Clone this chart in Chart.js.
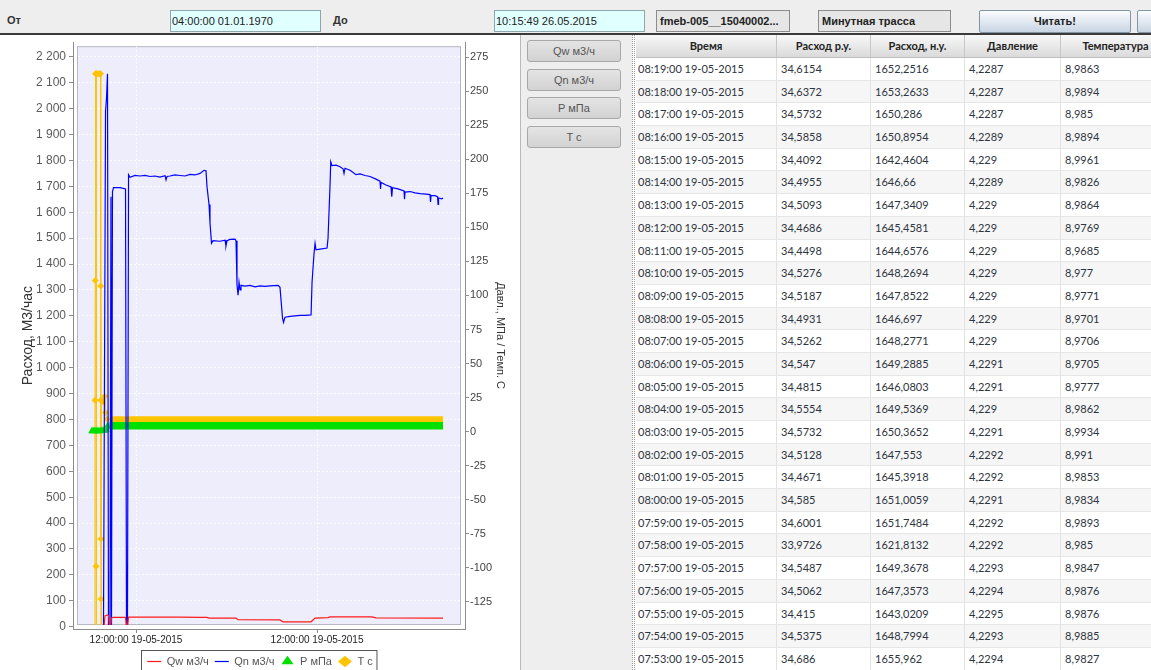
<!DOCTYPE html>
<html lang="ru">
<head>
<meta charset="utf-8">
<title>Минутная трасса</title>
<script src="https://cdn.jsdelivr.net/npm/chart.js@4.4.1/dist/chart.umd.min.js"></script>
<style>
    html, body { margin: 0; padding: 0; }
    body { width: 1151px; height: 670px; overflow: hidden; position: relative; background: #fff;
           font-family: 'Liberation Sans', Arial, sans-serif; }

    /* top toolbar */
    .toolbar { position: absolute; left: 0; top: 0; width: 1151px; height: 33px; background: #eeeeee;
               border-bottom: 2px solid #3a3a3a; z-index: 2; }
    .toolbar .lbl { position: absolute; top: 14px; font-size: 11px; font-weight: bold; color: #333; }
    .field { position: absolute; top: 10px; height: 22px; box-sizing: border-box; font-size: 11px;
             line-height: 20px; white-space: nowrap; overflow: hidden; color: #222; }
    .field.date { background: #e0ffff; border: 1px solid #8fa6ad; padding-left: 1px;
                  font-family: 'Liberation Sans Narrow', 'Arial Narrow', 'Liberation Sans', sans-serif; }
    .field.gray { background: #e6e6e6; border: 1px solid #8c8c8c; padding-left: 3px; font-weight: bold; }
    .btn-read { position: absolute; top: 10px; height: 23px; box-sizing: border-box; border: 1px solid #8394a6;
                border-radius: 2px; background: linear-gradient(#fbfcfe, #c8d5e3); font-size: 11px;
                font-weight: bold; color: #222; text-align: center; line-height: 21px; }

    /* chart panel */
    .chart-panel { position: absolute; left: 0; top: 35px; width: 520px; height: 635px; background: #fff;
                   border-right: 1px solid #b9b9b9; }
    .chart-box { position: absolute; left: 0; top: 32px; width: 520px; height: 645px; z-index: 1; }

    /* series buttons */
    .side { position: absolute; left: 521px; top: 35px; width: 111px; height: 635px; background: #eeeeee; }
    .side .sbtn { position: absolute; left: 6px; width: 94px; height: 22px; box-sizing: border-box;
                  border: 1px solid #a8a8a8; border-radius: 3px; background: linear-gradient(#e4e4e4, #d2d2d2);
                  font-size: 11px; color: #555; text-align: center; line-height: 20px; }
    .splitter { position: absolute; left: 632px; top: 35px; width: 3px; height: 635px;
                border-left: 1px dotted #9a9a9a; border-right: 1px dotted #9a9a9a; box-sizing: border-box; }

    /* data table */
    .grid { position: absolute; left: 636px; top: 35px; width: 515px; height: 635px; overflow: hidden;
            background: #fff; font-family: Lato, 'Liberation Sans', sans-serif; }
    .grid .head { display: flex; height: 23px; box-sizing: border-box; border-bottom: 1px solid #bdbdbd;
                  background: linear-gradient(#f8f8f8, #dadada); }
    .grid .head .cell { font-weight: bold; text-align: center; color: #222; line-height: 22px;
                        padding-left: 0; border-right: 1px solid #c6c6c6; }
    .grid .row { display: flex; height: 22.69px; box-sizing: border-box; border-bottom: 1px solid #e6e6e6; }
    .grid .row.odd { background: #f6f6f6; }
    .grid .cell { flex: none; box-sizing: border-box; padding-left: 4px; font-size: 11px; line-height: 21.5px;
                  color: #2e3440; white-space: nowrap; overflow: hidden; border-right: 1px solid #e2e2e2; }
    .grid .c0 { width: 141px; padding-left: 2px; }
    .grid .c1 { width: 94px; }
    .grid .c2 { width: 94px; }
    .grid .c3 { width: 96px; }
    .grid .c4 { width: 110px; }
</style>
</head>
<body>

<div class="toolbar">
    <span class="lbl" style="left:7px">От</span>
    <div class="field date" style="left:170px;width:151px">04:00:00 01.01.1970</div>
    <span class="lbl" style="left:333px">До</span>
    <div class="field date" style="left:494px;width:151px">10:15:49 26.05.2015</div>
    <div class="field gray" style="left:656px;width:134px">fmeb-005__15040002...</div>
    <div class="field gray" style="left:818px;width:133px">Минутная трасса</div>
    <div class="btn-read" style="left:979px;width:152px">Читать!</div>
    <div class="btn-read" style="left:1137px;width:40px"></div>
</div>

<div class="chart-panel"></div>
<div class="chart-box"><canvas id="traceChart"></canvas></div>

<div class="side" id="seriesButtons"></div>
<div class="splitter"></div>

<div class="grid">
    <div class="head" id="tableHead"></div>
    <div id="tableBody"></div>
</div>

<script>
// Trace viewer - minute trace chart + table

// Series names (legend, side buttons)
const seriesNames = ['Qw м3/ч', 'Qn м3/ч', 'P мПа', 'T c'];

// Time axis: hours from the first labelled tick
const xTickHours = [0, 24];
const xTickLabels = ['12:00:00 19-05-2015', '12:00:00 19-05-2015'];

// Left axis (flow) and right axis (pressure / temperature) ticks
const flowTicks = [0, 100, 200, 300, 400, 500, 600, 700, 800, 900, 1000, 1100,
                   1200, 1300, 1400, 1500, 1600, 1700, 1800, 1900, 2000, 2100, 2200];
const presTicks = [-125, -100, -75, -50, -25, 0, 25, 50, 75, 100, 125, 150, 175, 200, 225, 250, 275];

// Qw, m3/h (working conditions)
const qwTimes = [-5.70, -4.24, -4.11, -3.85, -3.65, -3.51, -3.38, -3.25, -3.05, -1.39, -1.26, -1.13, -0.99,
                 1.86, 5.83, 8.49, 9.41, 9.68, 13.26, 13.53, 19.09, 19.49, 23.21, 23.74, 25.46, 25.72,
                 31.29, 31.82, 40.71];
const qwValues = [0, 0, 42, 45, 44, 5, 0, 34, 36, 36, 0, 0, 37,
                  37, 37, 36, 36, 33, 33, 27, 26, 19, 19, 33, 35, 38,
                  38, 34, 33];

// Qn, m3/h (normal conditions)
const qnTimes = [-5.70, -4.31, -4.04, -3.91, -3.78, -3.65, -3.45, -3.32, -3.25, -3.12,
                 -2.98, -2.12, -1.39, -1.26, -1.13, -0.99, -0.80, -0.13, 0.53, 1.19,
                 1.86, 2.52, 3.18, 3.85, 3.98, 4.11, 4.51, 5.17, 5.83, 6.50,
                 7.16, 7.82, 8.49, 9.02, 9.28, 9.41, 9.68, 9.81, 10.01, 10.21,
                 11.14, 11.80, 11.93, 12.07, 12.46, 13.13, 13.26, 13.39, 13.53, 13.66,
                 13.79, 13.92, 14.45, 15.12, 15.78, 16.44, 17.11, 17.77, 18.83, 19.09,
                 19.43, 19.56, 19.76, 20.42, 21.75, 22.41, 23.21, 23.34, 23.60, 23.74,
                 23.87, 24.40, 25.33, 25.46, 25.72, 25.82, 25.99, 26.52, 27.05, 27.45,
                 27.58, 27.71, 28.38, 29.17, 29.70, 30.37, 31.03, 31.82, 32.35, 32.42,
                 32.49, 33.15, 33.81, 33.91, 34.01, 34.74, 35.54, 35.60, 35.67, 36.33,
                 36.99, 37.66, 38.45, 38.98, 39.05, 39.12, 39.65, 39.98, 40.05, 40.11,
                 40.54, 40.71];
const qnValues = [0, 0, 1990, 2040, 2135, 0, 0, 1660, 0, 1680,
                  1695, 1695, 1690, 0, 0, 1745, 1735, 1742, 1740, 1742,
                  1738, 1740, 1736, 1741, 1725, 1738, 1740, 1744, 1742, 1740,
                  1746, 1744, 1750, 1762, 1760, 1700, 1630, 1560, 1480, 1490,
                  1488, 1492, 1470, 1490, 1495, 1496, 1490, 1320, 1280, 1330,
                  1300, 1318, 1315, 1318, 1312, 1316, 1314, 1316, 1318, 1310,
                  1190, 1175, 1195, 1198, 1202, 1202, 1204, 1330, 1440, 1480,
                  1455, 1458, 1462, 1500, 1700, 1795, 1780, 1782, 1776, 1768,
                  1750, 1770, 1762, 1745, 1748, 1742, 1738, 1728, 1720, 1690,
                  1715, 1705, 1698, 1660, 1695, 1690, 1682, 1650, 1678, 1680,
                  1675, 1672, 1670, 1668, 1640, 1665, 1664, 1660, 1630, 1655,
                  1652, 1655];

// P, MPa
const pTimes = [-5.83, -5.57, -5.30, -5.04, -4.77, -4.51, -4.24, -3.98, -3.78, -3.51,
                -2.0, 4.0, 12.0, 20.0, 28.0, 36.0, 40.71];
const pValues = [0.4, 0.4, 0.4, 0.4, 0.4, 0.5, 0.6, 1.5, 3.8, 4.2,
                 4.23, 4.24, 4.23, 4.22, 4.23, 4.23, 4.23];

// T, C
const tTimes = [-5.50, -5.44, -5.40, -5.36, -5.30, -5.25, -5.22, -5.04, -4.84, -4.71,
                -4.68, -4.67, -4.65, -4.64, -4.63, -4.56, -4.38, -4.11, -4.04, -3.85,
                -3.45, 8.0, 24.0, 40.71];
const tValues = [-220, 23, 111, 263, -99, -220, 263, 263, 263, 263,
                 107, 23, -79, -123, -220, 23, 22, 26, 14, 9,
                 8.98, 8.97, 8.99, 8.98];

// Table (latest minutes first)
const tableColumns = ['Время', 'Расход р.у.', 'Расход, н.у.', 'Давление', 'Температура'];
const tableTimes = ['08:19:00 19-05-2015', '08:18:00 19-05-2015', '08:17:00 19-05-2015', '08:16:00 19-05-2015',
                    '08:15:00 19-05-2015', '08:14:00 19-05-2015', '08:13:00 19-05-2015', '08:12:00 19-05-2015',
                    '08:11:00 19-05-2015', '08:10:00 19-05-2015', '08:09:00 19-05-2015', '08:08:00 19-05-2015',
                    '08:07:00 19-05-2015', '08:06:00 19-05-2015', '08:05:00 19-05-2015', '08:04:00 19-05-2015',
                    '08:03:00 19-05-2015', '08:02:00 19-05-2015', '08:01:00 19-05-2015', '08:00:00 19-05-2015',
                    '07:59:00 19-05-2015', '07:58:00 19-05-2015', '07:57:00 19-05-2015', '07:56:00 19-05-2015',
                    '07:55:00 19-05-2015', '07:54:00 19-05-2015', '07:53:00 19-05-2015'];
const tableQw = ['34,6154', '34,6372', '34,5732', '34,5858', '34,4092', '34,4955', '34,5093', '34,4686',
                 '34,4498', '34,5276', '34,5187', '34,4931', '34,5262', '34,547', '34,4815', '34,5554',
                 '34,5732', '34,5128', '34,4671', '34,585', '34,6001', '33,9726', '34,5487', '34,5062',
                 '34,415', '34,5375', '34,686'];
const tableQn = ['1652,2516', '1653,2633', '1650,286', '1650,8954', '1642,4604', '1646,66', '1647,3409', '1645,4581',
                 '1644,6576', '1648,2694', '1647,8522', '1646,697', '1648,2771', '1649,2885', '1646,0803', '1649,5369',
                 '1650,3652', '1647,553', '1645,3918', '1651,0059', '1651,7484', '1621,8132', '1649,3678', '1647,3573',
                 '1643,0209', '1648,7994', '1655,962'];
const tableP = ['4,2287', '4,2287', '4,2287', '4,2289', '4,229', '4,2289', '4,229', '4,229',
                '4,229', '4,229', '4,229', '4,229', '4,229', '4,2291', '4,2291', '4,229',
                '4,2291', '4,2292', '4,2292', '4,2291', '4,2292', '4,2292', '4,2293', '4,2294',
                '4,2295', '4,2293', '4,2294'];
const tableT = ['8,9863', '8,9894', '8,985', '8,9894', '8,9961', '8,9826', '8,9864', '8,9769',
                '8,9685', '8,977', '8,9771', '8,9701', '8,9706', '8,9705', '8,9777', '8,9862',
                '8,9934', '8,991', '8,9853', '8,9834', '8,9893', '8,985', '8,9847', '8,9876',
                '8,9876', '8,9885', '8,9827'];

// Point in time where the steady (dense) part of P and T begins
const steadyFrom = -3.6;

// Pair time / value arrays into {x, y} points
function toPoints(times, values) {
    const n = Math.min(times.length, values.length);
    const points = [];
    for (let i = 0; i < n; i++) {
        points.push({ x: times[i], y: values[i] });
    }
    return points;
}

// Left axis labels use a space as thousands separator
function formatFlow(value) {
    if (value >= 1000) {
        return Math.floor(value / 1000) + ' ' + String(value % 1000).padStart(3, '0');
    }
    return String(value);
}

// Lavender plot background with a thin frame, inset from the axis lines
const plotFrame = {
    id: 'plotFrame',
    beforeDraw: function(chart) {
        const a = chart.chartArea;
        const ctx = chart.ctx;
        const inset = 4;
        ctx.save();
        ctx.fillStyle = '#ededfc';
        ctx.fillRect(a.left + inset, a.top + inset, a.right - a.left - 2 * inset, a.bottom - a.top - 2 * inset);
        ctx.strokeStyle = '#b8b8c4';
        ctx.lineWidth = 1;
        ctx.strokeRect(a.left + inset + 0.5, a.top + inset + 0.5,
                       a.right - a.left - 2 * inset - 1, a.bottom - a.top - 2 * inset - 1);
        ctx.restore();
    }
};

// Box around legend items
const legendFrame = {
    id: 'legendFrame',
    afterDraw: function(chart) {
        const legend = chart.legend;
        if (!legend || !legend.legendHitBoxes || !legend.legendHitBoxes.length) {
            return;
        }
        const boxes = legend.legendHitBoxes;
        const left = Math.min.apply(null, boxes.map(b => b.left)) - 6;
        const right = Math.max.apply(null, boxes.map(b => b.left + b.width)) + 4;
        const ctx = chart.ctx;
        ctx.save();
        ctx.strokeStyle = '#555';
        ctx.lineWidth = 1;
        ctx.strokeRect(Math.round(left) + 0.5, Math.round(legend.top) + 0.5, right - left, legend.height + 20);
        ctx.restore();
    }
};

Chart.defaults.font.family = "'Liberation Sans', Arial, sans-serif";
Chart.defaults.color = '#444';

function buildChart() {
    const ctx = document.getElementById('traceChart');

    const datasets = [
        {
            label: seriesNames[0],
            data: toPoints(qwTimes, qwValues),
            yAxisID: 'yFlow',
            borderColor: '#ff1a1a',
            backgroundColor: '#ff1a1a',
            borderWidth: 1.2,
            pointRadius: 0,
            pointStyle: 'line',
            clip: -4
        },
        {
            label: seriesNames[1],
            data: toPoints(qnTimes, qnValues),
            yAxisID: 'yFlow',
            borderColor: '#0000ff',
            backgroundColor: '#0000ff',
            borderWidth: 1.2,
            pointRadius: 0,
            pointStyle: 'line',
            clip: -4
        },
        {
            label: seriesNames[2],
            data: toPoints(pTimes, pValues),
            yAxisID: 'yPres',
            borderColor: '#00e000',
            backgroundColor: '#00e000',
            borderWidth: 1.2,
            pointStyle: 'triangle',
            pointRadius: c => (c.parsed && c.parsed.x > steadyFrom ? 0 : 4.5),
            pointBorderWidth: 0,
            segment: {
                borderWidth: c => (c.p0.parsed.x > steadyFrom ? 7.5 : 1.2)
            },
            clip: -4
        },
        {
            label: seriesNames[3],
            data: toPoints(tTimes, tValues),
            yAxisID: 'yPres',
            borderColor: '#ffc400',
            backgroundColor: '#ffc400',
            borderWidth: 1,
            pointStyle: 'rectRot',
            pointRadius: c => (c.parsed && c.parsed.x > steadyFrom ? 0 : 3.5),
            pointBorderWidth: 0,
            segment: {
                borderWidth: c => (c.p0.parsed.x > steadyFrom ? 6 : 1)
            },
            clip: -4
        }
    ];

    return new Chart(ctx, {
        type: 'line',
        data: { datasets: datasets },
        plugins: [plotFrame, legendFrame],
        options: {
            responsive: true,
            maintainAspectRatio: false,
            animation: false,
            layout: { padding: { top: 8, left: 0, right: 0, bottom: 0 } },
            scales: {
                x: {
                    type: 'linear',
                    min: -8.354,
                    max: 43.62,
                    afterBuildTicks: function(scale) {
                        scale.ticks = xTickHours.map(v => ({ value: v }));
                    },
                    afterFit: function(scale) { scale.height = 21; },
                    ticks: {
                        autoSkip: false,
                        maxRotation: 0,
                        padding: 1,
                        color: '#222',
                        font: { size: 10 },
                        callback: function(value, index) { return xTickLabels[index]; }
                    },
                    grid: {
                        color: 'rgba(255,255,255,0.8)',
                        tickColor: '#8c8c8c',
                        tickLength: 4,
                        tickBorderDash: []
                    },
                    border: { display: true, color: '#8c8c8c', dash: [2, 2] }
                },
                yFlow: {
                    type: 'linear',
                    position: 'left',
                    min: -8.85,
                    max: 2256.5,
                    afterBuildTicks: function(scale) {
                        scale.ticks = flowTicks.map(v => ({ value: v }));
                    },
                    afterFit: function(scale) { scale.width = 73; },
                    ticks: {
                        padding: 3,
                        color: '#5a5a5a',
                        font: { size: 12 },
                        callback: formatFlow
                    },
                    grid: {
                        color: 'rgba(255,255,255,0.95)',
                        tickColor: '#8c8c8c',
                        tickLength: 4,
                        tickBorderDash: []
                    },
                    border: { display: true, color: '#8c8c8c', dash: [2, 2] },
                    title: {
                        display: true,
                        text: 'Расход, М3/час',
                        color: '#333',
                        font: { size: 14 },
                        padding: { top: 20, bottom: 0 }
                    }
                },
                yPres: {
                    type: 'linear',
                    position: 'right',
                    min: -145.1,
                    max: 286.1,
                    afterBuildTicks: function(scale) {
                        scale.ticks = presTicks.map(v => ({ value: v }));
                    },
                    afterFit: function(scale) { scale.width = 55; },
                    ticks: {
                        padding: 1,
                        color: '#444',
                        font: { size: 11 }
                    },
                    grid: {
                        drawOnChartArea: false,
                        tickColor: '#8c8c8c',
                        tickLength: 4
                    },
                    border: { display: true, color: '#8c8c8c' },
                    title: {
                        display: true,
                        text: 'Давл., МПа / Темп. С',
                        color: '#333',
                        font: { size: 11 },
                        padding: { top: 13, bottom: 0 }
                    }
                }
            },
            plugins: {
                tooltip: { enabled: false },
                legend: {
                    position: 'bottom',
                    labels: {
                        usePointStyle: true,
                        pointStyleWidth: 14,
                        boxHeight: 8,
                        padding: 6,
                        color: '#555',
                        font: { size: 11 }
                    }
                }
            }
        }
    });
}

// Series toggle buttons on the side panel
function buildButtons() {
    const panel = document.getElementById('seriesButtons');
    seriesNames.forEach(function(name, i) {
        const btn = document.createElement('div');
        btn.className = 'sbtn';
        btn.style.top = (5 + i * 28.6) + 'px';
        btn.textContent = name;
        panel.appendChild(btn);
    });
}

// Minute values table
function buildTable() {
    const head = document.getElementById('tableHead');
    tableColumns.forEach(function(name, c) {
        const cell = document.createElement('div');
        cell.className = 'cell c' + c;
        cell.textContent = name;
        head.appendChild(cell);
    });

    const body = document.getElementById('tableBody');
    tableTimes.forEach(function(time, i) {
        const row = document.createElement('div');
        row.className = 'row' + (i % 2 ? ' odd' : '');
        [time, tableQw[i], tableQn[i], tableP[i], tableT[i]].forEach(function(text, c) {
            const cell = document.createElement('div');
            cell.className = 'cell c' + c;
            cell.textContent = text;
            row.appendChild(cell);
        });
        body.appendChild(row);
    });
}

document.addEventListener('DOMContentLoaded', function() {
    buildButtons();
    buildTable();
    buildChart();
});
</script>
</body>
</html>
